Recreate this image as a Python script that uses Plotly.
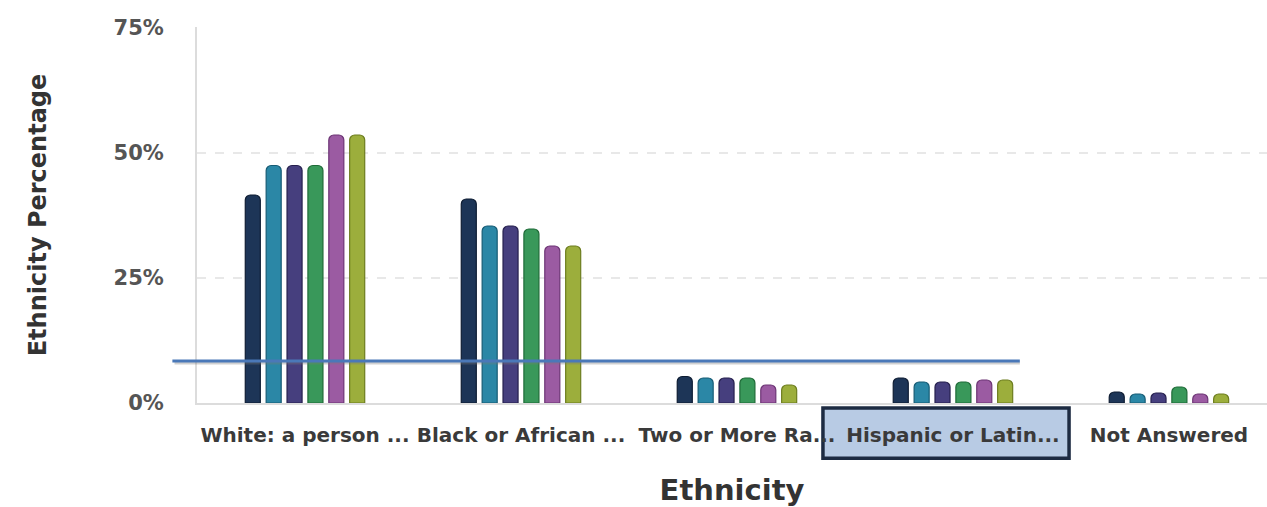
import plotly.graph_objects as go

categories = ["White: a person ...", "Black or African ...", "Two or More Ra...",
              "Hispanic or Latin...", "Not Answered"]
series_names = ["Year 1", "Year 2", "Year 3", "Year 4", "Year 5", "Year 6"]
values = [
    [41.6, 40.8, 5.3, 5.0, 2.2],
    [47.5, 35.4, 5.0, 4.2, 1.8],
    [47.5, 35.4, 5.0, 4.2, 2.0],
    [47.5, 34.8, 5.0, 4.2, 3.2],
    [53.6, 31.4, 3.6, 4.6, 1.8],
    [53.6, 31.4, 3.6, 4.6, 1.8],
]
colors = ["#1d3557", "#2b87a6", "#463f7e", "#39985a", "#9b5ba2", "#9cae3c"]
edges = ["#0f1d33", "#175c75", "#26204e", "#1f6b38", "#6d3575", "#6d7d1f"]
y_ticks = [0, 25, 50, 75]
y_tick_labels = ["0%", "25%", "50%", "75%"]

FONT = "DejaVu Sans"

fig = go.Figure()
for name, vals, c, e in zip(series_names, values, colors, edges):
    fig.add_trace(go.Bar(
        x=categories, y=vals, name=name,
        marker=dict(color=c, line=dict(color=e, width=1.2), cornerradius=5),
    ))

fig.update_layout(
    width=1267, height=507,
    margin=dict(l=197, r=0, t=27, b=104),
    paper_bgcolor="white", plot_bgcolor="white",
    barmode="group", bargap=0.42, bargroupgap=0.28,
    showlegend=False,
    font=dict(family=FONT, color="#4a4a4a"),
)
fig.update_xaxes(
    range=[-0.5, 4.454], showgrid=False,
    showline=True, linecolor="#dcdcdc", linewidth=2,
    ticks="outside", ticklen=13, tickcolor="rgba(0,0,0,0)",
    tickfont=dict(size=20, color="#3a3a3a", family=FONT, weight="bold"),
    title=dict(text="Ethnicity", font=dict(size=29, color="#333333", family=FONT, weight="bold"),
               standoff=34),
)
fig.update_yaxes(
    range=[0, 75.2], tickvals=y_ticks, ticktext=y_tick_labels,
    showgrid=True, gridcolor="#e8e8e8", griddash="dash", gridwidth=1.5,
    showline=True, linecolor="#dcdcdc", linewidth=2,
    zeroline=False,
    ticks="outside", ticklen=27, tickcolor="rgba(0,0,0,0)",
    tickfont=dict(size=21, color="#555555", family=FONT, weight="bold"),
    title=dict(text="Ethnicity Percentage", font=dict(size=24, color="#333333", family=FONT, weight="bold"),
               standoff=60),
)

# highlight overlays
fig.add_shape(type="line", xref="paper", yref="y", x0=-0.021, x1=0.769, y0=8.0, y1=8.0,
              line=dict(color="rgba(120,120,120,0.35)", width=3), layer="above")
fig.add_shape(type="line", xref="paper", yref="y", x0=-0.023, x1=0.769, y0=8.4, y1=8.4,
              line=dict(color="#4a78b8", width=3), layer="above")
fig.add_shape(type="rect", xref="paper", yref="paper", x0=0.585, x1=0.815, y0=-0.013, y1=-0.147,
              fillcolor="#b8cbe4", line=dict(color="#1d2b42", width=3.5), layer="below")

fig.write_html("out.html")
